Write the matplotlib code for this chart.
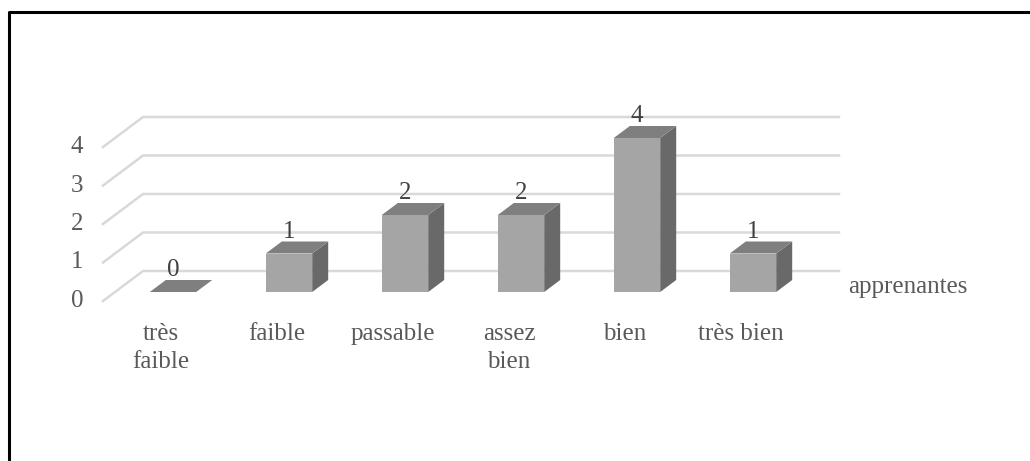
import matplotlib.pyplot as plt
from matplotlib.patches import Polygon

# données
categories = ["très\nfaible", "faible", "passable", "assez\nbien", "bien", "très bien"]
valeurs = [0, 1, 2, 2, 4, 1]
yticks = [0, 1, 2, 3, 4]
serie = "apprenantes"

# style
plt.rcParams['font.family'] = ['Liberation Serif', 'DejaVu Serif']
txt_col = '#595959'
c_front, c_top, c_side = '#a5a5a5', '#7f7f7f', '#696969'
grid_col = '#d9d9d9'

# pseudo-3D: decalage de profondeur (unites categorie / valeur)
DX, DY = 40 / 116, 30 / 38.5
d_front, d_back = 0.3, 0.7
w = 0.4

fig = plt.figure(figsize=(10.3, 4.61), dpi=100)
ax = fig.add_axes([0, 0, 1, 1])
ax.set_xlim(-0.5 - 103 / 116, -0.5 + 927 / 116)
ax.set_ylim((301 - 461) / 38.5, 301 / 38.5)
ax.axis('off')

# cadre noir
fig.add_artist(plt.Line2D([8.5 / 1030, 8.5 / 1030, 1.0], [0, 1 - 12.5 / 461, 1 - 12.5 / 461],
                          color='black', lw=2.2, transform=fig.transFigure))

# quadrillage (parois)
x0, x1 = -0.5, len(categories) - 0.5
for k in yticks:
    ax.plot([x0, x0 + DX, x1 + DX], [k, k + DY, k + DY], color=grid_col, lw=1.8, zorder=1)
    ax.text(x0 - 0.17, k, str(k), ha='right', va='center', fontsize=18, color=txt_col)

# barres
for i, v in enumerate(valeurs):
    xl = i - w / 2 + DX * d_front
    xr = i + w / 2 + DX * d_front
    yb = DY * d_front
    ddx = DX * (d_back - d_front)
    ddy = DY * (d_back - d_front)
    if v > 0:
        ax.add_patch(Polygon([(xl, yb), (xr, yb), (xr, yb + v), (xl, yb + v)],
                             closed=True, fc=c_front, ec='none', zorder=3))
        ax.add_patch(Polygon([(xr, yb), (xr + ddx, yb + ddy), (xr + ddx, yb + v + ddy), (xr, yb + v)],
                             closed=True, fc=c_side, ec='none', zorder=3))
    ax.add_patch(Polygon([(xl, yb + v), (xr, yb + v), (xr + ddx, yb + v + ddy), (xl + ddx, yb + v + ddy)],
                         closed=True, fc=c_top, ec='none', zorder=3))
    ax.text(i + DX * d_front, v + 0.8, str(v), ha='center', va='center', fontsize=18, color='#404040')

# etiquettes de categories
for i, c in enumerate(categories):
    ax.text(i, -0.56, c, ha='center', va='top', fontsize=18, color=txt_col, linespacing=1.4)

ax.text(-0.5 + (848 - 103) / 116, 0.36, serie, ha='left', va='center', fontsize=18, color=txt_col)

fig.savefig('out.png', dpi=100)
